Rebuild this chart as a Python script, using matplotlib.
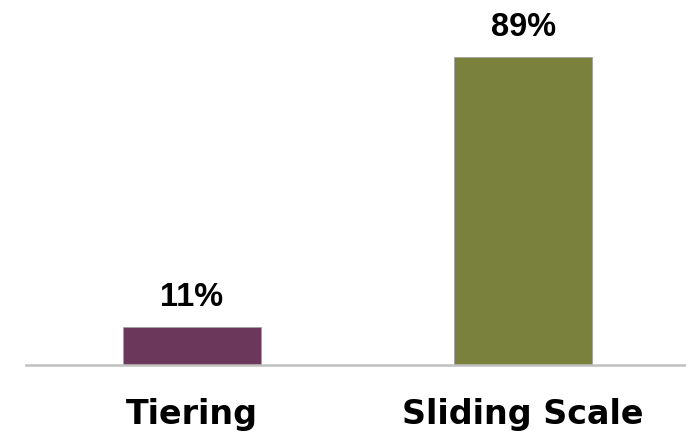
import matplotlib.pyplot as plt
import numpy as np

categories = ['Tiering', 'Sliding Scale']
shares = [11, 89]
bar_colors = ['#6B385C', '#79813C']

fig = plt.figure(figsize=(6.86, 4.42), dpi=100)
ax = fig.add_axes([26 / 686, 77 / 442, 663 / 686, 346 / 442])

x_locs = np.arange(len(categories))
bars = ax.bar(x_locs, shares, width=0.416, color=bar_colors,
              edgecolor='#a0a0a0', linewidth=0.6)

for b, v in zip(bars, shares):
    ax.annotate('{}%'.format(v), xy=(b.get_x() + b.get_width() / 2, b.get_height()),
                xytext=(0, 15), textcoords='offset points', ha='center', va='baseline',
                fontsize=23.5, fontweight='bold', family='Liberation Sans')

ax.set_xlim(-0.5, 1.5)
ax.set_ylim(0, 100)
ax.set_xticks(x_locs)
ax.set_xticklabels(categories, fontsize=24, fontweight='bold', family='DejaVu Sans')
ax.tick_params(axis='x', length=0, pad=24)
ax.set_yticks([])
for s in ['top', 'left', 'right']:
    ax.spines[s].set_visible(False)
ax.spines['bottom'].set_color('#c0c0c0')
ax.spines['bottom'].set_linewidth(1.8)

fig.savefig('out.png', dpi=100)
